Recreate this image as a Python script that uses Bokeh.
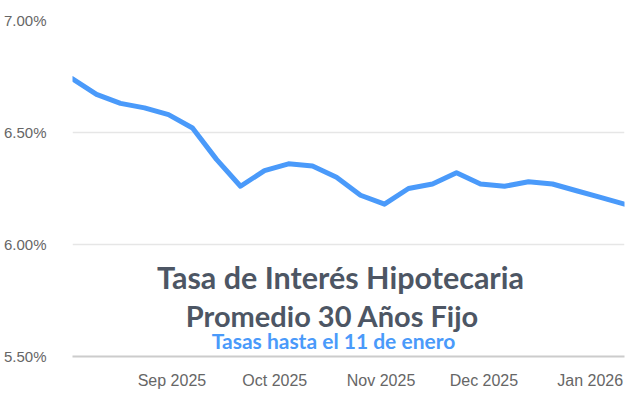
from datetime import datetime
from bokeh.plotting import figure
from bokeh.models import Range1d, FixedTicker, Label, ColumnDataSource
from bokeh.embed import file_html
from bokeh.resources import INLINE

# ---- data ----
dates = ["2025-08-03", "2025-08-10", "2025-08-17", "2025-08-24", "2025-08-31",
         "2025-09-07", "2025-09-14", "2025-09-21", "2025-09-28", "2025-10-05",
         "2025-10-12", "2025-10-19", "2025-10-26", "2025-11-02", "2025-11-09",
         "2025-11-16", "2025-11-23", "2025-11-30", "2025-12-07", "2025-12-14",
         "2025-12-21", "2025-12-28", "2026-01-04", "2026-01-11"]
rates = [6.74, 6.67, 6.63, 6.61, 6.58, 6.52, 6.38, 6.26, 6.33, 6.36,
         6.35, 6.30, 6.22, 6.18, 6.25, 6.27, 6.32, 6.27, 6.26, 6.28,
         6.27, 6.24, 6.21, 6.18]
x_tick_dates = ["2025-09-01", "2025-10-01", "2025-11-01", "2025-12-01", "2026-01-01"]
x_tick_labels = ["Sep 2025", "Oct 2025", "Nov 2025", "Dec 2025", "Jan 2026"]
y_ticks = [5.5, 6.0, 6.5, 7.0]
y_tick_labels = ["5.50%", "6.00%", "6.50%", "7.00%"]
title_lines = ["Tasa de Interés Hipotecaria", "Promedio 30 Años Fijo"]
subtitle = "Tasas hasta el 11 de enero"

def ms(s):
    return datetime.strptime(s, "%Y-%m-%d").timestamp() * 1000.0

xs = [datetime.strptime(d, "%Y-%m-%d") for d in dates]
x0, x1 = ms(dates[0]), ms(dates[-1])

p = figure(x_axis_type="datetime", output_backend="svg", toolbar_location=None,
           frame_width=552, frame_height=336,
           min_border_left=68, min_border_right=2, min_border_top=20, min_border_bottom=31,
           x_range=Range1d(x0, x1), y_range=Range1d(5.5, 7.0))
p.outline_line_color = None
p.background_fill_color = "white"
p.border_fill_color = "white"

src = ColumnDataSource(dict(x=xs, y=rates))
p.line("x", "y", source=src, line_color="#4a9afa", line_width=5,
       line_join="round", line_cap="round")

# axes
p.xaxis.ticker = FixedTicker(ticks=[ms(d) for d in x_tick_dates])
p.xaxis.major_label_overrides = {ms(d): l for d, l in zip(x_tick_dates, x_tick_labels)}
p.xaxis.major_tick_line_color = None
p.xaxis.minor_tick_line_color = None
p.xaxis.axis_line_color = "#cccccc"
p.xaxis.axis_line_width = 2
p.xaxis.major_label_standoff = 9
p.xaxis.major_label_text_font = "Liberation Sans"
p.xaxis.major_label_text_font_size = "16px"
p.xaxis.major_label_text_color = "#666666"

p.yaxis.ticker = FixedTicker(ticks=y_ticks)
p.yaxis.major_label_overrides = {t: l for t, l in zip(y_ticks, y_tick_labels)}
p.yaxis.major_tick_line_color = None
p.yaxis.minor_tick_line_color = None
p.yaxis.axis_line_color = None
p.yaxis.major_label_standoff = 20
p.yaxis.major_label_text_font = "Liberation Sans"
p.yaxis.major_label_text_font_size = "15px"
p.yaxis.major_label_text_color = "#666666"

p.xgrid.grid_line_color = None
p.ygrid.grid_line_color = "#e6e6e6"
p.ygrid.grid_line_width = 1.5

# title annotations (screen units inside the frame)
p.add_layout(Label(x=340 - 72, y=357 - 277, x_units="screen", y_units="screen", text=title_lines[0],
                   text_align="center", text_baseline="middle", text_font="Lato",
                   text_font_style="bold", text_font_size="30.5px", text_color="#4d5664"))
p.add_layout(Label(x=332 - 72, y=357 - 316, x_units="screen", y_units="screen", text=title_lines[1],
                   text_align="center", text_baseline="middle", text_font="Lato",
                   text_font_style="bold", text_font_size="29px", text_color="#4d5664"))
p.add_layout(Label(x=333 - 72, y=357 - 341, x_units="screen", y_units="screen", text=subtitle,
                   text_align="center", text_baseline="middle", text_font="Lato",
                   text_font_style="bold", text_font_size="21px", text_color="#4a9afa"))

open("out.html", "w").write(file_html(p, INLINE))
